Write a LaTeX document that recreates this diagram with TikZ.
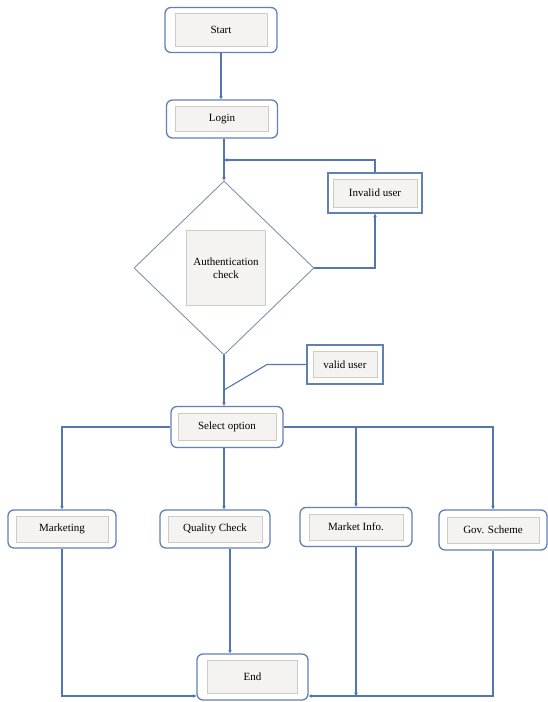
\documentclass[tikz,border=0pt]{standalone}
\usepackage{fontspec}
\setmainfont{Liberation Serif}
\usetikzlibrary{shapes.geometric,arrows.meta}
\definecolor{boxblue}{RGB}{96,128,182}
\definecolor{lineblue}{RGB}{84,118,176}
\definecolor{diablue}{RGB}{128,146,178}
\definecolor{innerfill}{RGB}{244,243,241}
\definecolor{innerdraw}{RGB}{208,203,194}
\tikzset{
  outerbox/.style={draw=boxblue, line width=1.3pt, rounded corners=6pt, fill=white, inner sep=0pt},
  squarebox/.style={draw=boxblue, line width=1.3pt, fill=white, inner sep=0pt},
  innerbox/.style={draw=innerdraw, line width=0.6pt, fill=innerfill, inner sep=0pt, font=\fontsize{11}{12.5}\selectfont, align=center},
  arr/.style={draw=lineblue, line width=1.1pt, -{Stealth[length=3.5pt,width=3.5pt]}},
  ln/.style={draw=lineblue, line width=1.1pt},
  diabox/.style={draw=diablue, line width=0.9pt, fill=white, diamond, inner sep=0pt, minimum width=180pt, minimum height=174pt}
}
\begin{document}
\begin{tikzpicture}[x=1pt,y=-1pt]
\useasboundingbox (0,0) rectangle (547,702);
% Start
\node[outerbox, minimum width=112pt, minimum height=45pt] (start) at (221,30) {};
\node[innerbox, minimum width=92pt, minimum height=33pt] (start-in) at (start) {Start};
% Login
\node[outerbox, minimum width=111pt, minimum height=38pt] (login) at (222,119) {};
\node[innerbox, minimum width=93pt, minimum height=25pt] (login-in) at (login) {Login};
% Diamond
\node[diabox] (dia) at (224,268) {};
\node[innerbox, minimum width=79pt, minimum height=75pt] (dia-in) at (226,268) {Authentication\\check};
% Invalid user
\node[squarebox, minimum width=94pt, minimum height=40pt] (inv) at (375,193) {};
\node[innerbox, minimum width=84pt, minimum height=28pt] (inv-in) at (inv) {Invalid user};
% valid user
\node[squarebox, minimum width=76pt, minimum height=39pt] (val) at (345,364.5) {};
\node[innerbox, minimum width=64pt, minimum height=26pt] (val-in) at (val) {valid user};
% Select option
\node[outerbox, minimum width=112pt, minimum height=41pt] (sel) at (227,427) {};
\node[innerbox, minimum width=98pt, minimum height=27pt] (sel-in) at (sel) {Select option};
% Options
\node[outerbox, minimum width=108pt, minimum height=38pt] (mkt) at (62,529) {};
\node[innerbox, minimum width=92pt, minimum height=26pt] (mkt-in) at (mkt) {Marketing};
\node[outerbox, minimum width=110pt, minimum height=38pt] (qc) at (215,529) {};
\node[innerbox, minimum width=94pt, minimum height=26pt] (qc-in) at (qc) {Quality Check};
\node[outerbox, minimum width=112pt, minimum height=39pt] (mi) at (356,527) {};
\node[innerbox, minimum width=94pt, minimum height=26pt] (mi-in) at (mi) {Market Info.};
\node[outerbox, minimum width=108pt, minimum height=40pt] (gov) at (493,530) {};
\node[innerbox, minimum width=92pt, minimum height=26pt] (gov-in) at (gov) {Gov. Scheme};
% End
\node[outerbox, minimum width=111pt, minimum height=46pt] (endn) at (252.5,677) {};
\node[innerbox, minimum width=90pt, minimum height=33pt] (endn-in) at (endn) {End};
% helper coordinates
\coordinate (fb) at (0,160);
\coordinate (vk) at (267,364.5);
\coordinate (vj) at (224,390);
\coordinate (qcx) at (230,0);
\coordinate (by) at (0,696);
% connectors
\draw[arr] (start) -- (start |- login.north);
\draw[arr] (login.south -| dia.north) -- (dia.north);
\draw[arr] (inv.north) -- (inv.north |- fb) -- (dia.north |- fb);
\draw[arr] (dia.east) -| (inv.south);
\draw[ln] (val.west) -- (vk) -- (vj);
\draw[arr] (dia.south) -- (dia.south |- sel.north);
\draw[arr] (sel.west) -| (mkt.north);
\draw[arr] (sel.east) -| (gov.north);
\draw[arr] (sel.east -| mi.north) -- (mi.north);
\draw[arr] (sel.south -| dia.south) -- (qc.north -| dia.south);
\draw[arr] (mkt.south) |- (endn.west |- by);
\draw[arr] (qc.south -| qcx) -- (endn.north -| qcx);
\draw[arr] (gov.south) |- (endn.east |- by);
\draw[arr] (mi.south) -- (mi.south |- by);
\end{tikzpicture}
\end{document}
